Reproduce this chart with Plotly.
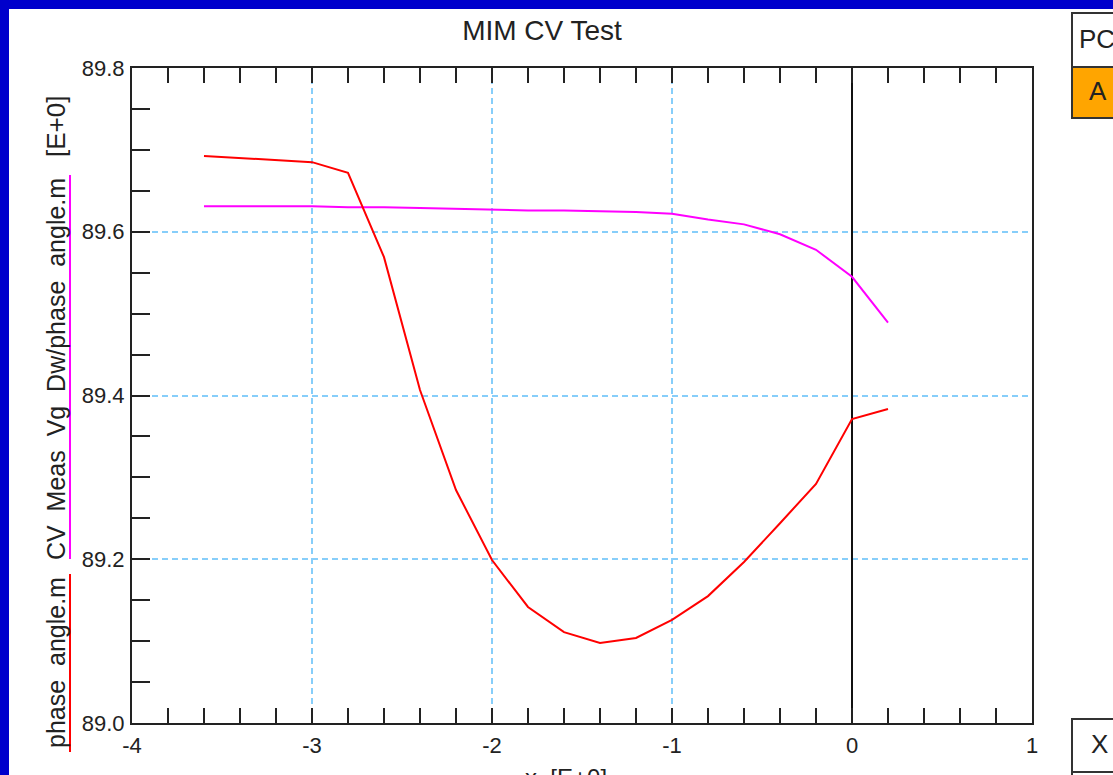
import plotly.graph_objects as go

# ---- data ----
x_vals = [-3.6, -3.4, -3.2, -3.0, -2.8, -2.6, -2.4, -2.2, -2.0, -1.8,
          -1.6, -1.4, -1.2, -1.0, -0.8, -0.6, -0.4, -0.2, 0.0, 0.2]
phase_angle = [89.6925, 89.690, 89.6876, 89.685, 89.672, 89.569, 89.4067, 89.2846,
               89.199, 89.1417, 89.111, 89.0977, 89.1038, 89.126, 89.155, 89.1966,
               89.244, 89.292, 89.3713, 89.3835]
cv_meas_vg_dw = [89.631, 89.631, 89.631, 89.631, 89.630, 89.630, 89.629, 89.628,
                 89.627, 89.626, 89.626, 89.625, 89.624, 89.622, 89.615, 89.609,
                 89.597, 89.578, 89.545, 89.489]
x_ticks = [-4, -3, -2, -1, 0, 1]
y_ticks = [89.0, 89.2, 89.4, 89.6, 89.8]
y_tick_text = ["89.0", "89.2", "89.4", "89.6", "89.8"]

W, H = 1113, 775
L, R, T, B = 132, 1032, 68, 723

def px(xp):
    return (xp - L) / (R - L)

def py(yp):
    return (B - yp) / (B - T)

FONT = "Liberation Sans, Arial, sans-serif"
TXT = "#222222"

fig = go.Figure()
fig.add_trace(go.Scatter(x=x_vals, y=cv_meas_vg_dw, mode="lines",
                         line=dict(color="#FF00FF", width=2), showlegend=False))
fig.add_trace(go.Scatter(x=x_vals, y=phase_angle, mode="lines",
                         line=dict(color="#FF0000", width=2), showlegend=False))

shapes = []
# white page area inside blue frame
shapes.append(dict(type="rect", xref="paper", yref="paper", layer="below",
                   x0=px(9), x1=px(1120), y0=py(780), y1=py(9),
                   fillcolor="white", line=dict(width=0)))
# y-title colored underline bars
shapes.append(dict(type="line", xref="paper", yref="paper",
                   x0=px(70), x1=px(70), y0=py(175), y1=py(559),
                   line=dict(color="#FF00FF", width=2)))
shapes.append(dict(type="line", xref="paper", yref="paper",
                   x0=px(70), x1=px(70), y0=py(574), y1=py(752),
                   line=dict(color="#FF0000", width=2)))
# legend boxes on the right (clipped)
shapes.append(dict(type="rect", xref="paper", yref="paper",
                   x0=px(1072), x1=px(1140), y0=py(67), y1=py(13),
                   fillcolor="white", line=dict(color="#333333", width=2)))
shapes.append(dict(type="rect", xref="paper", yref="paper",
                   x0=px(1072), x1=px(1140), y0=py(118), y1=py(67),
                   fillcolor="#FFA500", line=dict(color="#333333", width=2)))
shapes.append(dict(type="rect", xref="paper", yref="paper",
                   x0=px(1072), x1=px(1140), y0=py(772), y1=py(719),
                   fillcolor="white", line=dict(color="#333333", width=2)))
shapes.append(dict(type="rect", xref="paper", yref="paper",
                   x0=px(1072), x1=px(1140), y0=py(800), y1=py(772),
                   fillcolor="white", line=dict(color="#333333", width=2)))

def ann(text, x, y, size, angle=0, xa="center", ya="middle"):
    return dict(text=text, xref="paper", yref="paper", x=px(x), y=py(y),
                xanchor=xa, yanchor=ya, showarrow=False, textangle=angle,
                font=dict(family=FONT, size=size, color=TXT))

annotations = [
    ann("phase  angle.m", 56, 663, 25, -90),
    ann("CV  Meas  Vg  Dw/phase  angle.m", 56, 369, 25, -90),
    ann("[E+0]", 56, 127, 26, -90),
    ann("x  [E+0]", 566, 762, 24, 0, "center", "top"),
    ann("PC", 1077, 39, 26, 0, "left"),
    ann("A", 1087, 91, 26, 0, "left"),
    ann("X", 1089, 744, 26, 0, "left"),
]

fig.update_layout(
    width=W, height=H,
    margin=dict(l=L, r=W - R, t=T, b=H - B, pad=0),
    paper_bgcolor="#0000CC",
    plot_bgcolor="white",
    title=dict(text="MIM CV Test", x=542 / W, xanchor="center", y=1 - 30 / H,
               yanchor="middle", font=dict(family=FONT, size=28, color=TXT)),
    shapes=shapes,
    annotations=annotations,
    showlegend=False,
)
fig.update_xaxes(
    range=[-4, 1], tickvals=x_ticks, ticktext=[str(v) for v in x_ticks],
    showline=True, linecolor=TXT, linewidth=2, mirror="ticks",
    ticks="inside", ticklen=15, tickcolor=TXT, tickwidth=2,
    minor=dict(dtick=0.2, ticks="inside", ticklen=15, tickcolor=TXT, tickwidth=2, showgrid=False),
    showgrid=True, gridcolor="#87CEFA", griddash="6px,4px", gridwidth=2,
    zeroline=True, zerolinecolor="#111111", zerolinewidth=2,
    tickfont=dict(family=FONT, size=22, color=TXT),
    ticklabelstandoff=2,
)
fig.update_yaxes(
    range=[89.0, 89.8], tickvals=y_ticks, ticktext=y_tick_text,
    showline=True, linecolor=TXT, linewidth=2, mirror=True,
    ticks="inside", ticklen=18, tickcolor=TXT, tickwidth=2,
    minor=dict(dtick=0.05, tick0=89.0, ticks="inside", ticklen=18, tickcolor=TXT, tickwidth=2, showgrid=False),
    showgrid=True, gridcolor="#87CEFA", griddash="6px,4px", gridwidth=2,
    zeroline=False,
    tickfont=dict(family=FONT, size=22, color=TXT),
    ticklabelstandoff=1,
)
fig.write_html("out.html")
